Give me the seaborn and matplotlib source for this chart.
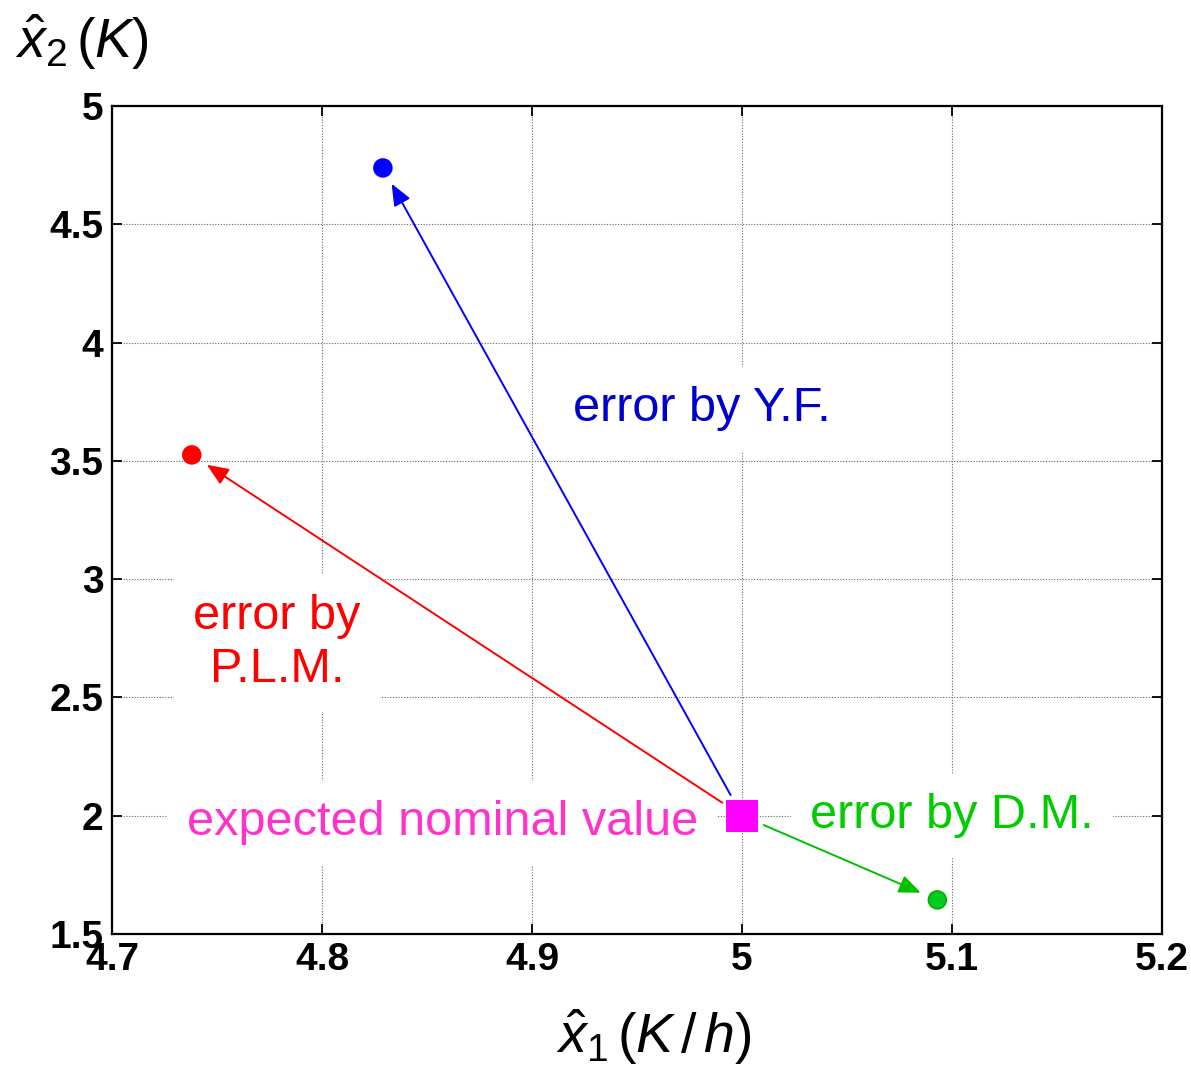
import matplotlib
matplotlib.use("Agg")
import matplotlib.pyplot as plt
import seaborn as sns
import pandas as pd
import numpy as np

# ---------------- data ----------------
nominal_x = [5.0]
nominal_y = [2.0]
methods = ["Y.F.", "P.L.M.", "D.M."]
est_x = [4.829, 4.738, 5.093]
est_y = [4.738, 3.525, 1.644]
point_colors = ["#0000ff", "#ff0000", "#00cc22"]
edge_colors = ["#0000ff", "#ff0000", "#00b000"]
arrow_colors = ["#0000ff", "#ff0000", "#00c000"]

x_ticks = [4.7, 4.8, 4.9, 5.0, 5.1, 5.2]
x_ticklabels = ["4.7", "4.8", "4.9", "5", "5.1", "5.2"]
y_ticks = [1.5, 2.0, 2.5, 3.0, 3.5, 4.0, 4.5, 5.0]
y_ticklabels = ["1.5", "2", "2.5", "3", "3.5", "4", "4.5", "5"]

labels = ["error by Y.F.", "error by\nP.L.M.", "error by D.M.", "expected nominal value"]
label_x = [4.9195, 4.7786, 5.0325, 4.7357]
label_y = [3.72, 2.73, 2.0, 1.97]
label_ha = ["left", "center", "left", "left"]
label_colors = ["#0000cc", "#ff0000", "#00cc00", "#ff33cc"]

# ---------------- style ----------------
sns.set_style("white")
plt.rcParams["font.family"] = ["Liberation Sans", "DejaVu Sans"]
plt.rcParams["mathtext.fontset"] = "custom"
plt.rcParams["mathtext.rm"] = "Liberation Sans"
plt.rcParams["mathtext.it"] = "Liberation Sans:italic"
plt.rcParams["mathtext.bf"] = "Liberation Sans:bold"

fig = plt.figure(figsize=(11.91, 10.67), dpi=100)
ax = fig.add_axes([0.094, 0.1247, 0.8817, 0.776])

df = pd.DataFrame({"x": est_x, "y": est_y, "method": methods})
sns.scatterplot(data=df, x="x", y="y", hue="method",
                palette=dict(zip(methods, point_colors)),
                s=165, marker="o", linewidth=1.2,
                edgecolor=edge_colors, legend=False, ax=ax, zorder=5)

dn = pd.DataFrame({"x": nominal_x, "y": nominal_y})
sns.scatterplot(data=dn, x="x", y="y", color="#ff00ff", marker="s",
                s=540, linewidth=0, legend=False, ax=ax, zorder=5)

for ex, ey, c in zip(est_x, est_y, arrow_colors):
    ax.annotate("", xy=(ex, ey), xytext=(nominal_x[0], nominal_y[0]),
                arrowprops=dict(arrowstyle="-|>,head_length=0.6,head_width=0.25",
                                color=c, lw=1.4, shrinkA=17, shrinkB=13,
                                mutation_scale=22),
                zorder=4)

for t, tx, ty, ha, c in zip(labels, label_x, label_y, label_ha, label_colors):
    ax.text(tx, ty, t, color=c, fontsize=35, ha=ha, va="center",
            multialignment="center", linespacing=1.25,
            bbox=dict(facecolor="white", edgecolor="none", pad=14),
            zorder=3)

ax.set_xlim(4.7, 5.2)
ax.set_ylim(1.5, 5.0)
ax.set_xticks(x_ticks)
ax.set_xticklabels(x_ticklabels)
ax.set_yticks(y_ticks)
ax.set_yticklabels(y_ticklabels)
for lab in ax.get_xticklabels() + ax.get_yticklabels():
    lab.set_fontweight("bold")
    lab.set_fontsize(28)
    lab.set_color("black")

ax.tick_params(direction="in", length=7, width=1.3, top=True, right=True,
               bottom=True, left=True, pad=6, colors="black")
ax.set_axisbelow(True)
ax.grid(True, color="0.4", linestyle=(0, (1, 1.5)), linewidth=0.8)
for sp in ax.spines.values():
    sp.set_visible(True)
    sp.set_color("black")
    sp.set_linewidth(1.6)

ax.set_xlabel(r"$\hat{x}_{1}\,(K\,/\,h)$", fontsize=40, va="center", ha="center", color="black")
ax.set_ylabel(r"$\hat{x}_{2}\,(K)$", fontsize=40, rotation=0, ha="center", va="center", color="black")
ax.xaxis.set_label_coords(0.516, -0.125)
ax.yaxis.set_label_coords(-0.029, 1.077)

fig.savefig("out.png", dpi=100)
